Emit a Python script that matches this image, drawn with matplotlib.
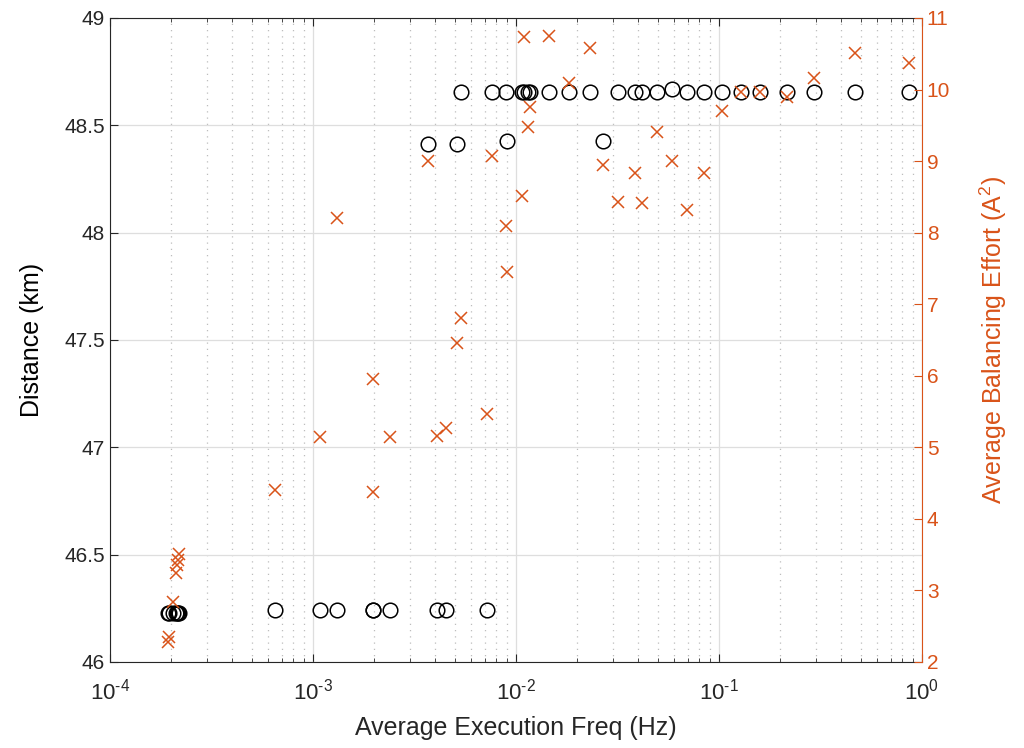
import numpy as np
import matplotlib
matplotlib.use('Agg')
import matplotlib.pyplot as plt
from matplotlib.ticker import LogLocator, NullFormatter, FuncFormatter

plt.rcParams['font.family'] = ['Liberation Sans', 'DejaVu Sans']
plt.rcParams['mathtext.fontset'] = 'custom'
plt.rcParams['mathtext.rm'] = 'Liberation Sans'
plt.rcParams['mathtext.it'] = 'Liberation Sans'
plt.rcParams['mathtext.default'] = 'regular'

# average execution frequency (Hz), shared by both series
freq = [1.94e-4, 1.95e-4, 2.04e-4, 2.12e-4, 2.14e-4, 2.16e-4, 2.18e-4,
        6.5e-4, 1.08e-3, 1.31e-3, 1.97e-3, 1.98e-3, 2.40e-3, 3.69e-3,
        4.10e-3, 4.52e-3, 5.12e-3, 5.36e-3, 7.19e-3, 7.62e-3, 8.93e-3,
        9.04e-3, 1.07e-2, 1.10e-2, 1.15e-2, 1.17e-2, 1.46e-2, 1.82e-2,
        2.32e-2, 2.69e-2, 3.18e-2, 3.86e-2, 4.18e-2, 4.95e-2, 5.87e-2,
        6.95e-2, 8.43e-2, 0.1035, 0.128, 0.159, 0.216, 0.294, 0.468, 0.863]

# distance (km), left axis
distance = [46.23, 46.23, 46.23, 46.23, 46.23, 46.23, 46.23,
            46.24, 46.24, 46.24, 46.24, 46.24, 46.24, 48.415,
            46.24, 46.24, 48.415, 48.655, 46.24, 48.655, 48.655,
            48.425, 48.655, 48.655, 48.655, 48.655, 48.655, 48.655,
            48.655, 48.425, 48.655, 48.655, 48.655, 48.655, 48.67,
            48.655, 48.655, 48.655, 48.655, 48.655, 48.655, 48.655, 48.655, 48.655]

# average balancing effort (A^2), right axis
effort = [2.28, 2.35, 2.84, 3.24, 3.35, 3.43, 3.51,
          4.41, 5.15, 8.21, 5.96, 4.38, 5.15, 9.00,
          5.16, 5.27, 6.46, 6.81, 5.47, 9.07, 8.09,
          7.45, 8.51, 10.73, 9.48, 9.76, 10.75, 10.09,
          10.58, 8.95, 8.43, 8.84, 8.42, 9.41, 9.00,
          8.32, 8.84, 9.70, 9.97, 9.97, 9.90, 10.16, 10.51, 10.37]

left_ticks = [46, 46.5, 47, 47.5, 48, 48.5, 49]
left_labels = ['46', '46.5', '47', '47.5', '48', '48.5', '49']
right_ticks = list(range(2, 12))

orange = '#D95319'


def pow10(v, pos):
    e = int(round(np.log10(v)))
    return '$10^{%s}$' % ('\\text{-}%d' % -e if e < 0 else '%d' % e)


fig = plt.figure(figsize=(10.24, 7.48), dpi=100)
ax = fig.add_axes([0.1074, 0.115, 0.793, 0.861])
ax2 = ax.twinx()

ax.set_xscale('log')
ax.set_xlim(1e-4, 1)
ax.set_ylim(46, 49)
ax.set_yticks(left_ticks)
ax.set_yticklabels(left_labels)
ax.xaxis.set_major_formatter(FuncFormatter(pow10))

ax.grid(True, which='major', color='#dedede', linewidth=0.9, linestyle='-')
ax.xaxis.set_minor_locator(LogLocator(base=10, subs=np.arange(2, 10), numticks=20))
ax.xaxis.set_minor_formatter(NullFormatter())
ax.grid(True, which='minor', axis='x', color='#bdbdbd', linewidth=0.9, linestyle=(0, (1, 4)))
ax.set_axisbelow(True)

ax.plot(freq, distance, linestyle='none', marker='o', markersize=10.5,
        markerfacecolor='none', markeredgecolor='black', markeredgewidth=1.1)
ax2.plot(freq, effort, linestyle='none', marker='x', markersize=8,
         color=orange, markeredgewidth=1.1)
ax2.set_ylim(2, 11)
ax2.set_yticks(right_ticks)

ax.tick_params(axis='both', which='both', direction='in', top=True, right=False,
               labelsize=15, colors='#262626')
ax.tick_params(axis='x', which='major', length=6, pad=12, labelsize=16)
ax.tick_params(axis='x', which='minor', length=3)
ax.tick_params(axis='y', length=6)
ax2.tick_params(axis='y', direction='in', length=6, labelsize=15, colors=orange)

for s in ['left', 'bottom', 'top']:
    ax.spines[s].set_color('#262626')
ax.spines['right'].set_visible(False)
ax2.spines['right'].set_color(orange)
ax2.spines['left'].set_visible(False)
ax2.spines['top'].set_visible(False)
ax2.spines['bottom'].set_visible(False)

ax.set_xlabel('Average Execution Freq (Hz)', fontsize=18, color='#262626', labelpad=8)
ax.set_ylabel('Distance (km)', fontsize=18, color='black', labelpad=15)
ax2.set_ylabel('Average Balancing Effort (A$^2$)', fontsize=18, color=orange, labelpad=20)

fig.savefig('out.png', dpi=100)
